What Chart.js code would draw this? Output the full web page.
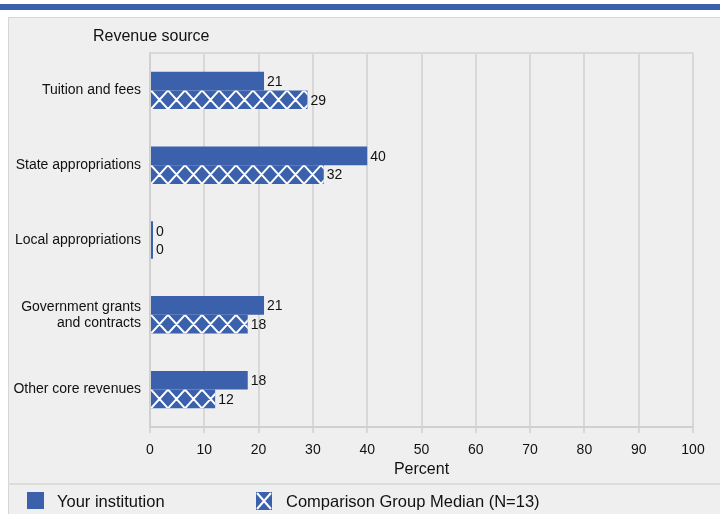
<!DOCTYPE html>
<html><head><meta charset="utf-8">
<script src="https://cdn.jsdelivr.net/npm/chart.js@4/dist/chart.umd.min.js"></script>
<style>
html,body{margin:0;padding:0;width:720px;height:514px;overflow:hidden;background:#fff;font-family:"Liberation Sans",Arial,sans-serif;}
#stripe{position:absolute;left:0;top:4px;width:720px;height:6px;background:#3b61ad;}
#box{position:absolute;left:8px;top:17px;width:720px;height:497px;background:#efefef;border-left:1px solid #d6d6d6;border-top:1px solid #d6d6d6;}
#divider{position:absolute;left:8px;top:483px;width:720px;height:2px;background:#dcdcdc;}
#wrap{position:absolute;left:0;top:0;width:720px;height:514px;}
#ytitle{position:absolute;left:93px;top:27px;font-size:16px;color:#111;}
.leg{position:absolute;top:492px;font-size:16.5px;color:#111;line-height:18px;}
</style></head>
<body>
<div id="stripe"></div>
<div id="box"></div>
<div id="divider"></div>
<div id="wrap"><canvas id="c" width="720" height="514"></canvas></div>
<div id="ytitle">Revenue source</div>
<div class="leg" style="left:27px;"><span style="display:inline-block;width:17px;height:17px;background:#3b61ad;vertical-align:top;"></span></div>
<div class="leg" style="left:57px;">Your institution</div>
<div class="leg" style="left:256px;"><svg width="16" height="18" style="display:block"><rect x="0" y="0" width="16" height="18" fill="#3b61ad"/><path d="M1 1 L15 17 M15 1 L1 17" stroke="#fff" stroke-width="2"/></svg></div>
<div class="leg" style="left:286px;">Comparison Group Median (N=13)</div>
<script>
const categories = [["Tuition and fees"],["State appropriations"],["Local appropriations"],["Government grants","and contracts"],["Other core revenues"]];
const seriesNames = ["Your institution","Comparison Group Median (N=13)"];
const yourInstitution = [21,40,0,21,18];
const comparisonMedian = [29,32,0,18,12];
const xTicks = [0,10,20,30,40,50,60,70,80,90,100];

const BLUE = "#3b61ad";

const hatchPlugin = {
  id:"hatch",
  afterDatasetsDraw(chart){
    const ctx = chart.ctx;
    const meta = chart.getDatasetMeta(1);
    meta.data.forEach(el=>{
      const p = el.getProps(["x","y","base","height"],true);
      const left = Math.min(p.base,p.x), right = Math.max(p.base,p.x);
      const top = p.y - p.height/2, bottom = p.y + p.height/2;
      if (right-left < 4) return;
      ctx.save();
      ctx.beginPath(); ctx.rect(left,top,right-left,bottom-top); ctx.clip();
      ctx.strokeStyle="#ffffff"; ctx.lineWidth=2;
      const w = 17;
      ctx.beginPath();
      for(let x0=left-w; x0<right+w; x0+=w){
        ctx.moveTo(x0, top); ctx.lineTo(x0+w, bottom);
        ctx.moveTo(x0+w, top); ctx.lineTo(x0, bottom);
      }
      ctx.stroke();
      ctx.restore();
    });
  }
};
const labelPlugin = {
  id:"vlabels",
  afterDatasetsDraw(chart){
    const ctx = chart.ctx;
    ctx.save();
    ctx.font = "14px 'Liberation Sans', Arial, sans-serif";
    ctx.fillStyle = "#111";
    ctx.textBaseline = "middle";
    ctx.textAlign = "left";
    chart.data.datasets.forEach((ds,i)=>{
      chart.getDatasetMeta(i).data.forEach((el,j)=>{
        const p = el.getProps(["x","y","base"],true);
        const xe = Math.max(p.x,p.base+2);
        ctx.fillText(String(ds.data[j]), xe+3, p.y+1);
      });
    });
    ctx.restore();
  }
};

new Chart(document.getElementById("c"),{
  type:"bar",
  data:{
    labels:categories,
    datasets:[
      {label:seriesNames[0],data:yourInstitution,backgroundColor:BLUE,borderWidth:0,categoryPercentage:0.5,barPercentage:1.0,minBarLength:3},
      {label:seriesNames[1],data:comparisonMedian,backgroundColor:BLUE,borderWidth:0,categoryPercentage:0.5,barPercentage:1.0,minBarLength:3}
    ]
  },
  options:{
    indexAxis:"y",
    responsive:false,
    animation:false,
    devicePixelRatio:1,
    layout:{padding:{top:53,right:27,left:0,bottom:35}},
    plugins:{legend:{display:false},tooltip:{enabled:false},title:{display:false}},
    scales:{
      x:{
        min:0,max:100,
        afterBuildTicks(s){ s.ticks = xTicks.map(v=>({value:v})); },
        grid:{color:"#d8d8d8",lineWidth:2,tickLength:6,drawTicks:true},
        border:{color:"#d0d0d0",width:2},
        ticks:{color:"#111",font:{family:"'Liberation Sans', Arial",size:14},padding:9,maxRotation:0},
        title:{display:true,text:"Percent",color:"#111",font:{family:"'Liberation Sans', Arial",size:16},padding:{top:4,bottom:0}},
        afterFit(s){ s.height = 52; }
      },
      y:{
        grid:{drawOnChartArea:false,drawTicks:false,tickLength:0},
        border:{color:"#d0d0d0",width:2},
        ticks:{color:"#111",font:{family:"'Liberation Sans', Arial",size:14,lineHeight:1.15},padding:9},
        afterFit(s){ s.width = 150; }
      }
    }
  },
  plugins:[hatchPlugin,labelPlugin,{
    id:"topline",
    beforeDatasetsDraw(chart){
      const a = chart.chartArea, ctx = chart.ctx;
      ctx.save(); ctx.strokeStyle="#d8d8d8"; ctx.lineWidth=2;
      ctx.beginPath(); ctx.moveTo(a.left,a.top); ctx.lineTo(a.right,a.top); ctx.stroke(); ctx.restore();
    }
  }]
});
</script>
</body></html>
